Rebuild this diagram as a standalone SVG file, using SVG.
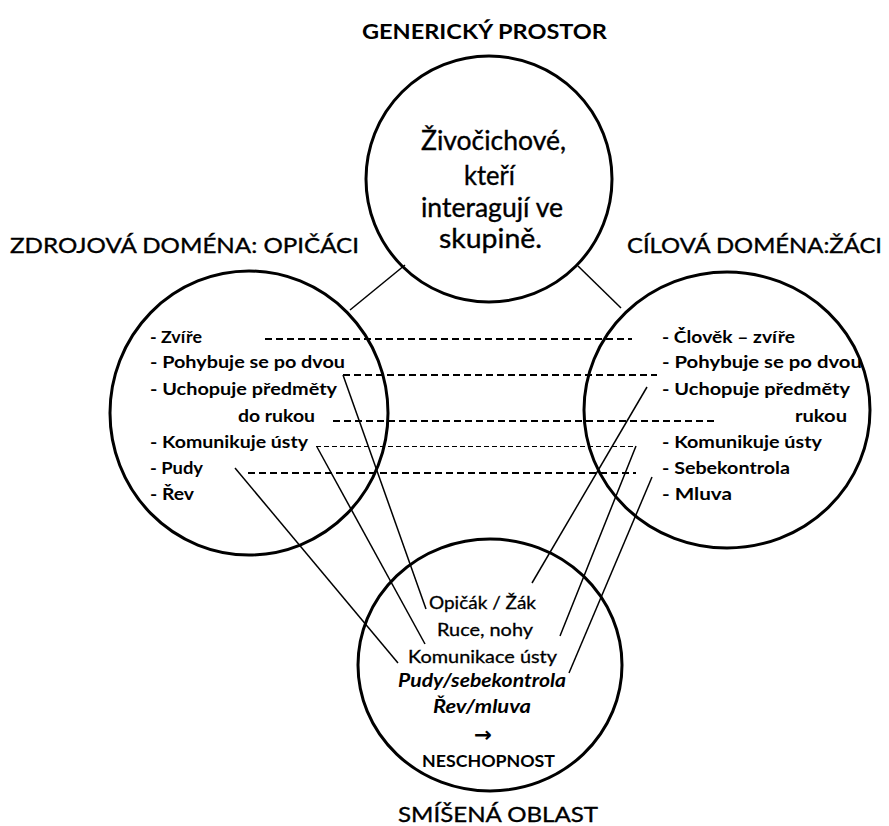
<svg xmlns="http://www.w3.org/2000/svg" width="889" height="826" viewBox="0 0 889 826">
<style>
  text { font-family: Lato, "Liberation Sans", "DejaVu Sans", sans-serif; fill: #000; }
  .title { font-size: 21px; stroke: #000; stroke-width: 0.35; }
  .gen { font-size: 21px; font-weight: bold; }
  .big { font-size: 26px; stroke: #000; stroke-width: 0.35; }
  .item { font-size: 17px; font-weight: bold; }
  .mid { font-size: 18px; stroke: #000; stroke-width: 0.3; }
  .bi { font-size: 18px; font-weight: bold; font-style: italic; }
  .b { font-size: 17px; font-weight: bold; }
  .arrow { font-size: 21px; font-weight: bold; font-family: "DejaVu Sans", sans-serif; }
  .circle { fill: none; stroke: #000; stroke-width: 3; }
  .solid { stroke: #000; stroke-width: 1.5; fill: none; }
  .dash { stroke: #000; stroke-width: 2; stroke-dasharray: 7 4; fill: none; }
  .dashfine { stroke: #000; stroke-width: 1; stroke-dasharray: 5 3; fill: none; }
</style>
<rect width="889" height="826" fill="#fff"/>

<g id="connectors">
  <line class="solid" x1="405" y1="265" x2="350" y2="310"/>
  <line class="solid" x1="578" y1="266" x2="621" y2="308"/>
  <line class="dash" x1="265" y1="339" x2="632" y2="339"/>
  <line class="dash" x1="343" y1="375" x2="657" y2="375"/>
  <line class="dash" x1="333" y1="421" x2="718" y2="421"/>
  <line class="dashfine" x1="316" y1="446.5" x2="636" y2="446.5"/>
  <line class="dash" x1="248" y1="473" x2="636" y2="473"/>
  <line class="solid" x1="343" y1="375" x2="426" y2="609"/>
  <line class="solid" x1="317" y1="447" x2="425" y2="644"/>
  <line class="solid" x1="235" y1="468" x2="398" y2="663"/>
  <line class="solid" x1="647" y1="387" x2="532" y2="583"/>
  <line class="solid" x1="636" y1="446" x2="560" y2="636"/>
  <line class="solid" x1="652" y1="477" x2="569" y2="673"/>
</g>

<g id="generic">
  <text class="gen" x="362" y="39" textLength="245" lengthAdjust="spacingAndGlyphs">GENERICKÝ PROSTOR</text>
  <circle class="circle" cx="489" cy="179" r="123"/>
  <text class="big" x="421" y="150" textLength="145" lengthAdjust="spacingAndGlyphs">Živočichové,</text>
  <text class="big" x="464" y="185" textLength="51" lengthAdjust="spacingAndGlyphs">kteří</text>
  <text class="big" x="421" y="217" textLength="142" lengthAdjust="spacingAndGlyphs">interagují ve</text>
  <text class="big" x="439" y="248" textLength="103" lengthAdjust="spacingAndGlyphs">skupině.</text>
</g>

<g id="source">
  <text class="title" x="10" y="253" textLength="349" lengthAdjust="spacingAndGlyphs">ZDROJOVÁ DOMÉNA: OPIČÁCI</text>
  <ellipse class="circle" cx="249" cy="413" rx="139" ry="142"/>
  <text class="item" x="150" y="343" textLength="52" lengthAdjust="spacingAndGlyphs">- Zvíře</text>
  <text class="item" x="150" y="368" textLength="195" lengthAdjust="spacingAndGlyphs">- Pohybuje se po dvou</text>
  <text class="item" x="150" y="395" textLength="187" lengthAdjust="spacingAndGlyphs">- Uchopuje předměty</text>
  <text class="item" x="238" y="422" textLength="77" lengthAdjust="spacingAndGlyphs">do rukou</text>
  <text class="item" x="150" y="448" textLength="158" lengthAdjust="spacingAndGlyphs">- Komunikuje ústy</text>
  <text class="item" x="150" y="474" textLength="53" lengthAdjust="spacingAndGlyphs">- Pudy</text>
  <text class="item" x="150" y="500" textLength="44" lengthAdjust="spacingAndGlyphs">- Řev</text>
</g>

<g id="target">
  <text class="title" x="627" y="253" textLength="255" lengthAdjust="spacingAndGlyphs">CÍLOVÁ DOMÉNA:ŽÁCI</text>
  <ellipse class="circle" cx="727" cy="410" rx="143" ry="138"/>
  <text class="item" x="662" y="343" textLength="133" lengthAdjust="spacingAndGlyphs">- Člověk – zvíře</text>
  <text class="item" x="662" y="368" textLength="200" lengthAdjust="spacingAndGlyphs">- Pohybuje se po dvou</text>
  <text class="item" x="662" y="395" textLength="188" lengthAdjust="spacingAndGlyphs">- Uchopuje předměty</text>
  <text class="item" x="795" y="422" textLength="52" lengthAdjust="spacingAndGlyphs">rukou</text>
  <text class="item" x="662" y="448" textLength="160" lengthAdjust="spacingAndGlyphs">- Komunikuje ústy</text>
  <text class="item" x="662" y="474" textLength="128" lengthAdjust="spacingAndGlyphs">- Sebekontrola</text>
  <text class="item" x="662" y="500" textLength="70" lengthAdjust="spacingAndGlyphs">- Mluva</text>
</g>

<g id="blend">
  <ellipse class="circle" cx="490" cy="665" rx="132" ry="126"/>
  <text class="mid" x="429" y="609" textLength="107" lengthAdjust="spacingAndGlyphs">Opičák / Žák</text>
  <text class="mid" x="437" y="636" textLength="96" lengthAdjust="spacingAndGlyphs">Ruce, nohy</text>
  <text class="mid" x="408" y="663" textLength="149" lengthAdjust="spacingAndGlyphs">Komunikace ústy</text>
  <text class="bi" x="398" y="687" textLength="168" lengthAdjust="spacingAndGlyphs">Pudy/sebekontrola</text>
  <text class="bi" x="433" y="713" textLength="98" lengthAdjust="spacingAndGlyphs">Řev/mluva</text>
  <text class="arrow" x="474" y="742" textLength="18" lengthAdjust="spacingAndGlyphs">→</text>
  <text class="b" x="422" y="767" textLength="133" lengthAdjust="spacingAndGlyphs">NESCHOPNOST</text>
  <text class="title" x="398" y="822" textLength="200" lengthAdjust="spacingAndGlyphs">SMÍŠENÁ OBLAST</text>
</g>
</svg>
